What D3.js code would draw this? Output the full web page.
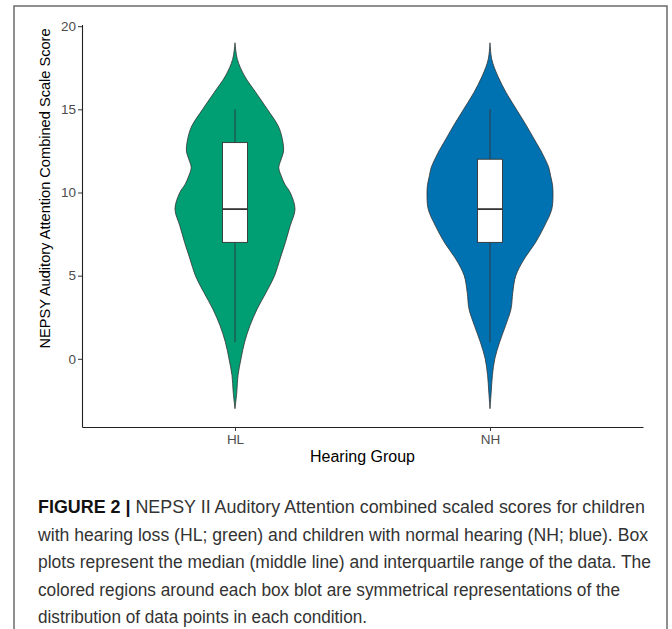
<!DOCTYPE html>
<html><head><meta charset="utf-8">
<script src="https://cdn.jsdelivr.net/npm/d3@7"></script>
<style>body{margin:0;background:#fff} svg{display:block}</style>
</head><body>
<svg id="chart" width="672" height="629"></svg>
<script>
// ---- data ----
const groups = ["HL", "NH"];
const groupColors = ["#009E73", "#0072B2"];
const yTicks = [0, 5, 10, 15, 20];
const densityGrid = [-3,-2,-1,0,1,2,3,4,5,6,7,8,9,10,10.5,11,11.5,12,12.5,13,13.5,14,15,16,17,18,19];
const densityHL = [0,0.003,0.005,0.010,0.016,0.025,0.037,0.052,0.066,0.075,0.084,0.092,0.100,0.092,0.083,0.077,0.073,0.077,0.081,0.080,0.077,0.072,0.054,0.035,0.016,0.004,0];
const densityNH = [0,0.002,0.004,0.008,0.016,0.026,0.035,0.038,0.043,0.057,0.076,0.091,0.103,0.105,0.104,0.101,0.098,0.092,0.085,0.077,0.069,0.061,0.044,0.027,0.013,0.003,0];
const whiskerLow = [1, 1];
const quartile1 = [7, 7];
const medians = [9, 9];
const quartile3 = [13, 12];
const whiskerHigh = [15, 15];
const xTitle = "Hearing Group";
const yTitle = "NEPSY Auditory Attention Combined Scale Score";
const captionBold = "FIGURE 2 |";
const captionLines = [
  " NEPSY II Auditory Attention combined scaled scores for children",
  "with hearing loss (HL; green) and children with normal hearing (NH; blue). Box",
  "plots represent the median (middle line) and interquartile range of the data. The",
  "colored regions around each box blot are symmetrical representations of the",
  "distribution of data points in each condition."
];
const captionWidths = [607, 610, 613, 582, 329];

// ---- layout ----
const svg = d3.select("#chart");
const FONT = "'Liberation Sans', Arial, Helvetica, sans-serif";

svg.append("path")
  .attr("d", "M14,629V6H667V629")
  .attr("fill", "none").attr("stroke", "#6b6b6b").attr("stroke-width", 1.5);

const x = d3.scalePoint().domain(groups).range([82, 643]).padding(0.6);
const y = d3.scaleLinear().domain([-4.1, 20.1]).range([427, 24.5]);
const w = d3.scaleLinear().domain([0, 0.105]).range([0, 63]);

const densities = [densityHL, densityNH];
const g = svg.append("g");

groups.forEach((grp, i) => {
  const cx = x(grp);
  const pts = densityGrid.map((v, k) => ({v: v, d: densities[i][k]}));
  const area = d3.area()
    .y(d => y(d.v))
    .x0(d => cx - w(d.d))
    .x1(d => cx + w(d.d))
    .curve(d3.curveCatmullRom.alpha(0.5));
  g.append("path").attr("d", area(pts))
    .attr("fill", groupColors[i]).attr("stroke", "#333").attr("stroke-width", 0.8);

  const bw = x.step() * 0.098;
  g.append("line").attr("x1", cx).attr("x2", cx)
    .attr("y1", y(quartile3[i])).attr("y2", y(whiskerHigh[i]))
    .attr("stroke", "#333").attr("stroke-width", 0.9);
  g.append("line").attr("x1", cx).attr("x2", cx)
    .attr("y1", y(quartile1[i])).attr("y2", y(whiskerLow[i]))
    .attr("stroke", "#333").attr("stroke-width", 0.9);
  g.append("rect").attr("x", cx - bw / 2).attr("width", bw)
    .attr("y", y(quartile3[i])).attr("height", y(quartile1[i]) - y(quartile3[i]))
    .attr("fill", "#fff").attr("stroke", "#333").attr("stroke-width", 0.9);
  g.append("line").attr("x1", cx - bw / 2).attr("x2", cx + bw / 2)
    .attr("y1", y(medians[i])).attr("y2", y(medians[i]))
    .attr("stroke", "#333").attr("stroke-width", 1.8);
});

// axes
const yAxis = svg.append("g").attr("transform", "translate(82,0)")
  .call(d3.axisLeft(y).tickValues(yTicks).tickSize(4).tickSizeOuter(0).tickPadding(2));
const xAxis = svg.append("g").attr("transform", `translate(0,${y(-4.1)})`)
  .call(d3.axisBottom(x).tickSize(4).tickSizeOuter(0).tickPadding(3));
[yAxis, xAxis].forEach(a => {
  a.select(".domain").attr("stroke", "#222").attr("stroke-width", 1.1);
  a.selectAll(".tick line").attr("stroke", "#333").attr("stroke-width", 1);
  a.selectAll(".tick text").attr("fill", "#4d4d4d").style("font-family", FONT).style("font-size", "13.5px");
});

svg.append("text").attr("x", 362.5).attr("y", 461.5).attr("text-anchor", "middle")
  .style("font-family", FONT).style("font-size", "16px").attr("fill", "#000").text(xTitle);
svg.append("text").attr("transform", "translate(49.5,188.5) rotate(-90)").attr("text-anchor", "middle")
  .style("font-family", FONT).style("font-size", "14.6px").attr("fill", "#000").text(yTitle);

// caption
captionLines.forEach((line, k) => {
  const t = svg.append("text").attr("x", 38).attr("y", 513 + k * 27.5)
    .style("font-family", FONT).style("font-size", "17.5px").attr("fill", "#333")
    .attr("textLength", captionWidths[k]).attr("lengthAdjust", "spacingAndGlyphs");
  if (k === 0) t.append("tspan").attr("font-weight", "bold").attr("fill", "#111").text(captionBold);
  t.append("tspan").text(line);
});
</script>
</body></html>
